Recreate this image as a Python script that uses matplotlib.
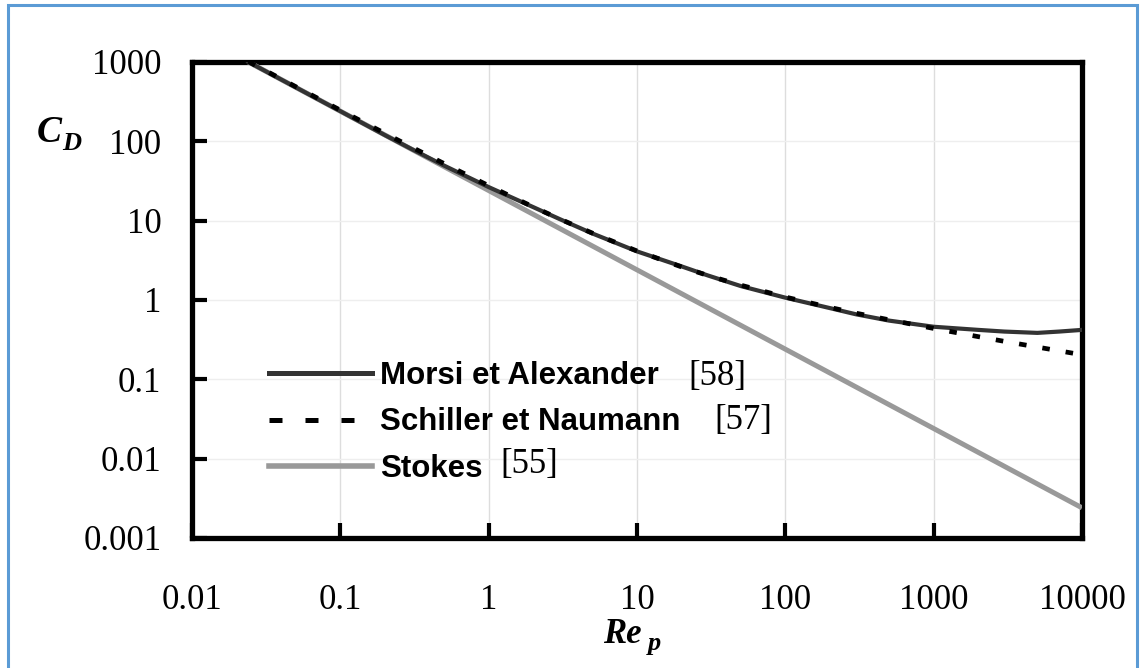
import matplotlib
matplotlib.use("Agg")
import matplotlib.pyplot as plt
from matplotlib.lines import Line2D
from matplotlib.patches import Rectangle

# ---- data ----
re_morsi = [0.024, 0.03, 0.05, 0.1, 0.2, 0.3, 0.5, 1, 2, 3, 5, 10, 20, 30, 50,
            100, 200, 300, 500, 1000, 2000, 3000, 5000, 7000, 10000]
cd_morsi = [1000, 800, 480, 240, 119.6, 80.5, 49.5, 26.5, 14.8, 10.5, 6.9, 4.1,
            2.65, 2.04, 1.5, 1.07, 0.79, 0.66, 0.55, 0.46, 0.42, 0.40, 0.385,
            0.40, 0.42]

re_schiller = [0.024, 0.03, 0.05, 0.1, 0.2, 0.3, 0.5, 1, 2, 3, 5, 10, 20, 30, 50,
               100, 200, 300, 500, 1000, 2000, 3000, 5000, 10000]
cd_schiller = [1012, 811, 489, 247, 126, 85.2, 52.5, 27.6, 14.9, 10.55, 6.97,
               4.15, 2.61, 2.04, 1.54, 1.09, 0.806, 0.682, 0.563, 0.438, 0.345,
               0.301, 0.255, 0.204]

re_stokes = [0.024, 0.1, 1, 10, 100, 1000, 10000]
cd_stokes = [1000, 240, 24, 2.4, 0.24, 0.024, 0.0024]

x_ticks = [0.01, 0.1, 1, 10, 100, 1000, 10000]
x_ticklabels = ["0.01", "0.1", "1", "10", "100", "1000", "10000"]
y_ticks = [0.001, 0.01, 0.1, 1, 10, 100, 1000]
y_ticklabels = ["0.001", "0.01", "0.1", "1", "10", "100", "1000"]

labels = ["Morsi et Alexander", "Schiller et Naumann", "Stokes"]
refs = ["[58]", "[57]", "[55]"]

# ---- figure ----
W, H = 1140, 668
fig = plt.figure(figsize=(W / 100, H / 100), dpi=100)
fig.patch.set_facecolor("white")

# blue frame
fig.patches.append(Rectangle((8 / W, -0.05), (1137 - 8) / W, 1.05 - 5 / H,
                             transform=fig.transFigure, fill=False,
                             edgecolor="#5b9bd5", linewidth=2.2))

ax = fig.add_axes([192 / W, 1 - 538 / H, (1082 - 192) / W, (538 - 62) / H])
ax.set_xscale("log")
ax.set_yscale("log")
ax.set_xlim(0.01, 10000)
ax.set_ylim(0.001, 1000)

ax.plot(re_stokes, cd_stokes, color="#999999", lw=3.6, solid_capstyle="butt", zorder=3)
ax.plot(re_schiller, cd_schiller, color="black", lw=3.4, dashes=(1.6, 3.4), zorder=4)
ax.plot(re_morsi, cd_morsi, color="#333333", lw=3.0, zorder=3)

ax.set_xticks(x_ticks)
ax.set_xticklabels(x_ticklabels)
ax.set_yticks(y_ticks)
ax.set_yticklabels(y_ticklabels)
ax.minorticks_off()

ax.xaxis.grid(True, color="#dddddd", lw=1.0)
ax.yaxis.grid(True, color="#eeeeee", lw=1.0)
ax.set_axisbelow(True)

for s in ax.spines.values():
    s.set_linewidth(3.8)
    s.set_color("black")

ax.tick_params(axis="both", which="major", direction="in", length=11, width=3,
               color="black", top=False, right=False)
ax.tick_params(axis="x", pad=33)
ax.tick_params(axis="y", pad=22)
for lab in ax.get_xticklabels() + ax.get_yticklabels():
    lab.set_fontfamily("Liberation Serif")
    lab.set_fontsize(25)

# axis labels
fig.text(37 / W, 1 - 142 / H, "C", fontfamily="Liberation Serif", fontweight="bold",
         fontstyle="italic", fontsize=27, va="baseline", ha="left")
fig.text(62 / W, 1 - 150 / H, "D", fontfamily="Liberation Serif", fontweight="bold",
         fontstyle="italic", fontsize=19, va="baseline", ha="left")
fig.text(603 / W, 1 - 643 / H, "Re", fontfamily="Liberation Serif", fontweight="bold",
         fontstyle="italic", fontsize=25, va="baseline", ha="left")
fig.text(648 / W, 1 - 650 / H, "p", fontfamily="Liberation Serif", fontweight="bold",
         fontstyle="italic", fontsize=19, va="baseline", ha="left")

# legend
handles = [Line2D([], [], color="#333333", lw=3.6),
           Line2D([], [], color="black", lw=3.6, dashes=(2.6, 4.6)),
           Line2D([], [], color="#999999", lw=4.0)]
leg = ax.legend(handles, labels, loc="upper left",
                bbox_to_anchor=(247 / W, 1 - 339 / H), bbox_transform=fig.transFigure,
                frameon=False, handlelength=3.3, handletextpad=0.26,
                labelspacing=0.53, borderpad=0.2,
                prop={"family": "Liberation Sans", "weight": "bold", "size": 22.5})

ref_pos = [(688, 376), (714, 421), (500, 465)]
for r, (px, py) in zip(refs, ref_pos):
    fig.text(px / W, 1 - py / H, r, fontfamily="Liberation Serif", fontsize=25,
             va="center", ha="left")

fig.savefig("out.png", dpi=100)
